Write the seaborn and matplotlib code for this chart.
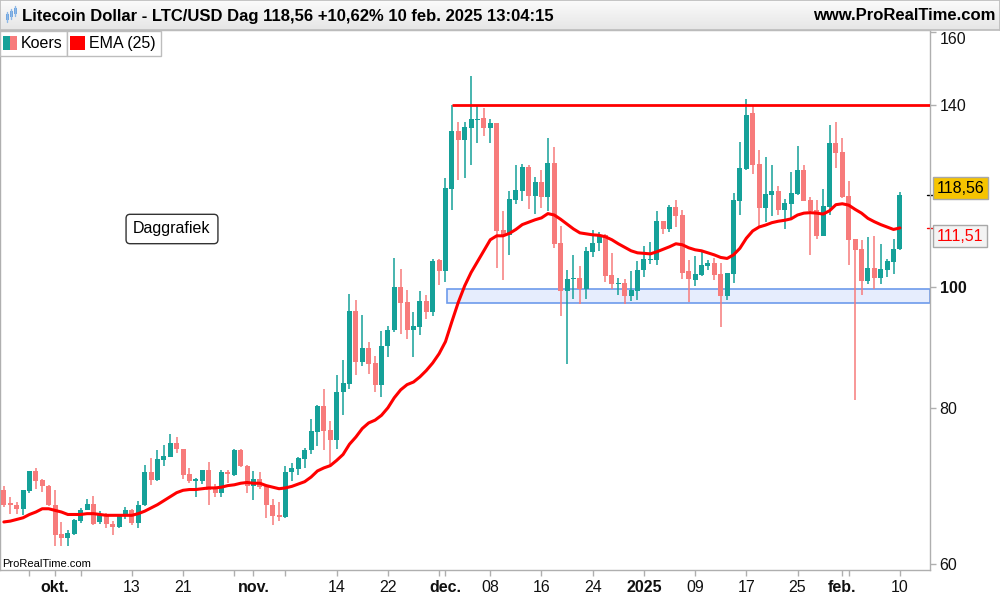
import numpy as np
import pandas as pd
import matplotlib
matplotlib.use("Agg")
import matplotlib.pyplot as plt
import matplotlib.dates as mdates
import matplotlib.transforms as mtransforms
from matplotlib.patches import Rectangle
from matplotlib.lines import Line2D
from matplotlib.ticker import NullLocator
import seaborn as sns

sns.set_theme(style="white")
plt.rcParams["font.family"] = ["Liberation Sans", "DejaVu Sans"]

# ---------------- data (daily LTC/USD, 23 Sep 2024 - 10 Feb 2025) ----------------
start_date = "2024-09-23"
end_date = "2025-02-10"

opens = [68.8, 67.0, 66.8, 66.4, 68.6, 71.2, 70.0, 69.3,
         66.9, 63.4, 62.9, 63.4, 64.9, 66.3, 67.0, 64.8, 65.7, 64.6,
         64.2, 65.6, 66.3, 64.7, 66.8, 71.0, 70.0, 72.7, 73.0, 75.0,
         74.2, 70.8, 69.9, 69.9, 71.3, 69.1, 68.3, 71.1, 70.7, 74.0,
         71.9, 69.2, 70.2, 69.3, 66.9, 65.6, 65.4, 71.0, 71.5, 72.8,
         74.0, 76.5, 80.2, 76.8, 75.4, 82.3, 83.6, 95.6, 87.1, 89.3,
         86.9, 83.5, 89.6, 92.3, 99.9, 97.2, 92.3, 92.8, 97.4, 95.5,
         105.1, 102.9, 119.8, 133.4, 131.2, 134.2, 136.1, 136.5, 134.2, 135.3,
         111.1, 110.0, 117.4, 119.4, 124.7, 118.3, 121.4, 118.1, 125.7, 108.5,
         99.3, 101.4, 101.6, 99.6, 106.7, 108.4, 110.1, 102.2, 100.5, 100.8,
         98.4, 99.3, 103.1, 105.1, 105.1, 113.0, 111.3, 116.0, 114.2, 103.0,
         101.3, 102.2, 104.0, 104.6, 102.4, 98.3, 102.4, 117.3, 124.3, 137.8,
         125.5, 115.7, 118.6, 119.4, 115.3, 116.6, 118.7, 124.1, 117.4, 115.3,
         109.9, 116.0, 130.5, 128.3, 118.3, 109.3, 107.3, 101.1, 103.6, 101.7,
         103.2, 104.8, 107.18]

closes = [66.9, 66.8, 66.4, 68.7, 71.2, 69.9, 69.2, 66.8,
          63.3, 62.9, 63.5, 65.0, 66.3, 67.0, 64.6, 65.6, 64.5, 64.2,
          65.5, 66.2, 64.7, 66.9, 71.0, 70.0, 72.8, 73.2, 75.0, 74.1,
          70.7, 69.9, 70.0, 71.3, 68.7, 68.4, 71.1, 70.8, 74.0, 71.8,
          69.2, 70.2, 69.1, 66.8, 65.5, 65.4, 71.1, 71.6, 72.9, 74.0,
          76.7, 80.2, 76.6, 75.4, 82.4, 83.8, 95.6, 87.1, 89.3, 86.8,
          83.5, 89.7, 92.4, 99.9, 97.0, 92.3, 93.0, 97.4, 95.5, 104.9,
          102.9, 120.1, 133.4, 131.1, 134.3, 136.3, 136.4, 134.2, 135.3, 110.9,
          110.0, 117.6, 119.6, 124.7, 118.3, 121.4, 118.1, 125.7, 108.3, 99.3,
          101.5, 101.6, 99.6, 106.9, 108.4, 110.1, 102.1, 100.5, 100.8, 98.4,
          99.4, 103.2, 105.3, 105.3, 113.0, 111.3, 116.0, 114.1, 102.7, 101.5,
          102.4, 104.1, 104.6, 102.2, 98.3, 102.6, 117.4, 124.6, 137.4, 125.2,
          115.6, 118.7, 119.4, 115.3, 116.7, 118.9, 124.1, 117.3, 115.1, 109.9,
          116.1, 130.5, 128.1, 118.0, 109.1, 107.1, 101.1, 103.6, 101.7, 103.4,
          104.9, 107.18, 118.56]

highs = [69.3, 67.8, 67.2, 68.7, 71.2, 71.6, 70.1, 69.4,
         68.7, 64.8, 63.9, 65.2, 66.5, 67.6, 68.0, 66.1, 65.9, 64.9,
         65.7, 66.6, 66.4, 67.4, 72.0, 72.9, 74.0, 74.7, 76.2, 75.8,
         74.2, 71.6, 70.3, 71.3, 72.4, 69.5, 71.3, 71.35, 74.2, 74.2,
         72.0, 71.2, 71.1, 69.4, 67.6, 67.2, 71.8, 72.3, 73.1, 74.3,
         78.4, 80.4, 82.9, 78.1, 85.0, 87.4, 98.7, 97.6, 94.9, 90.4,
         88.0, 92.2, 93.0, 105.5, 103.4, 99.4, 95.5, 99.3, 98.5, 105.3,
         105.2, 122.3, 140.0, 135.6, 135.6, 147.7, 139.8, 139.1, 136.3, 135.4,
         115.1, 119.4, 125.2, 125.4, 125.2, 122.6, 124.1, 131.6, 129.4, 111.9,
         103.2, 106.1, 103.9, 107.7, 111.1, 110.6, 110.3, 106.4, 101.6, 101.4,
         103.0, 104.9, 107.9, 108.6, 115.1, 113.0, 116.3, 117.4, 115.3, 105.1,
         105.9, 106.6, 105.1, 105.4, 104.5, 102.7, 118.9, 130.8, 141.5, 139.9,
         128.8, 127.1, 125.2, 120.5, 117.6, 123.6, 129.7, 125.2, 118.1, 117.4,
         119.8, 134.8, 135.6, 131.6, 121.6, 109.3, 109.1, 109.7, 109.9, 108.3,
         105.3, 109.3, 119.2]

lows = [66.6, 65.8, 65.8, 65.6, 68.4, 68.9, 68.5, 66.7,
        61.95, 61.95, 61.95, 63.3, 64.7, 66.2, 64.4, 64.5, 64.1, 63.2,
        64.1, 65.1, 64.4, 64.1, 66.7, 69.4, 69.9, 71.8, 73.0, 73.6,
        70.2, 69.6, 67.8, 69.5, 66.8, 67.9, 67.9, 69.6, 70.5, 71.7,
        68.3, 67.5, 68.9, 65.3, 64.4, 64.9, 65.3, 69.9, 70.7, 71.6,
        73.5, 74.5, 74.0, 72.0, 74.1, 78.9, 82.9, 85.0, 86.5, 85.2,
        82.4, 81.6, 87.9, 92.1, 91.7, 90.9, 87.9, 91.5, 94.2, 94.8,
        100.4, 101.0, 115.3, 121.8, 122.3, 125.2, 130.5, 132.2, 130.5, 103.6,
        101.3, 106.1, 116.6, 117.3, 115.5, 114.4, 115.6, 115.1, 107.4, 94.7,
        86.7, 97.8, 96.9, 97.8, 105.7, 106.9, 101.0, 99.6, 98.5, 96.9,
        97.5, 97.6, 101.9, 104.3, 104.1, 110.2, 110.7, 111.8, 101.5, 97.3,
        100.1, 102.1, 103.2, 101.3, 92.8, 97.6, 100.7, 114.2, 124.0, 123.1,
        111.8, 112.8, 113.9, 114.2, 111.3, 113.1, 118.4, 117.1, 106.1, 109.3,
        109.9, 114.2, 124.5, 117.8, 104.1, 81.2, 98.5, 100.6, 99.6, 100.6,
        101.9, 102.4, 107.0]

ema25 = [64.8, 64.9, 65.1, 65.3, 65.7, 66.0, 66.4, 66.4,
         66.2, 66.0, 65.7, 65.7, 65.7, 65.8, 65.8, 65.7, 65.6, 65.6,
         65.6, 65.6, 65.6, 65.8, 66.1, 66.5, 66.9, 67.4, 67.9, 68.4,
         68.7, 68.8, 68.8, 68.9, 69.0, 69.0, 69.1, 69.3, 69.4, 69.6,
         69.7, 69.6, 69.6, 69.3, 69.1, 68.9, 69.0, 69.2, 69.5, 69.8,
         70.4, 71.2, 71.6, 71.9, 72.6, 73.4, 74.8, 75.8, 77.0, 77.8,
         78.2, 78.9, 80.0, 81.5, 82.7, 83.5, 83.9, 84.7, 85.7, 86.9,
         88.4, 90.4, 93.8, 97.2, 100.2, 102.7, 104.8, 106.9, 109.1, 109.9,
         109.9, 110.4, 111.2, 112.2, 112.7, 113.2, 113.6, 114.5, 114.2, 113.3,
         112.3, 111.3, 110.5, 110.3, 110.1, 110.0, 109.7, 109.1, 108.3, 107.6,
         106.9, 106.5, 106.4, 106.3, 106.7, 107.2, 107.7, 108.3, 108.1, 107.5,
         107.1, 106.9, 106.5, 106.1, 105.6, 105.4, 106.1, 107.4, 109.4, 110.9,
         111.7, 112.1, 112.6, 112.9, 113.1, 113.4, 114.2, 114.6, 114.7, 114.6,
         114.4, 115.1, 116.4, 116.6, 116.3, 115.4, 114.6, 113.5, 112.8, 112.2,
         111.7, 111.2, 111.51]

resistance_level = 140.0
resistance_start = "2024-12-02"
zone_low, zone_high = 97.0, 99.6
zone_start = "2024-12-01 06:00"

last_close = 118.56
last_ema = 111.51

y_ticks = [60, 80, 100, 140, 160]
month_ticks = ["2024-10-01", "2024-11-01", "2024-12-01", "2025-01-01", "2025-02-01"]
month_labels = ["okt.", "nov.", "dec.", "2025", "feb."]
day_ticks = ["2024-09-27", "2024-10-05", "2024-10-13", "2024-10-21", "2024-10-29",
             "2024-11-06", "2024-11-14", "2024-11-22", "2024-11-30", "2024-12-08",
             "2024-12-16", "2024-12-24", "2025-01-09", "2025-01-17", "2025-01-25",
             "2025-02-02", "2025-02-10"]
day_labels = ["", "", "13", "21", "", "", "14", "22", "", "08", "16", "24",
              "09", "17", "25", "", "10"]

title = "Litecoin Dollar - LTC/USD Dag 118,56 +10,62% 10 feb. 2025 13:04:15"

# ---------------- figure ----------------
TEAL = "#15A199"
SALMON = "#F77B7B"
RED = "#FF0000"
GRAY = "#AFAFAF"

dates = pd.date_range(start_date, end_date, freq="D")
df = pd.DataFrame({"date": dates, "open": opens, "high": highs,
                   "low": lows, "close": closes, "ema": ema25})
df["x"] = mdates.date2num(df["date"])
df["up"] = df["close"] >= df["open"]
colors = np.where(df["up"], TEAL, SALMON)

fig = plt.figure(figsize=(10, 6), dpi=100)
fig.patch.set_facecolor("white")
ax = fig.add_axes([0.0, 0.05, 0.93, 0.90])
ax.set_facecolor("white")

xmin = df["x"].iloc[0] - 0.6
xmax = df["x"].iloc[-1] + 4.7

# support zone
z0 = mdates.date2num(pd.Timestamp(zone_start))
ax.add_patch(Rectangle((z0, zone_low), xmax - z0, zone_high - zone_low,
                       facecolor="#E6EDFD", edgecolor="#6D9BEB", lw=1.2, zorder=1))

# wicks and bodies
ax.vlines(df["x"], df["low"], df["high"], colors=colors, lw=1.1, zorder=2)
body_bottom = np.minimum(df["open"], df["close"])
body_height = np.maximum(np.abs(df["close"] - df["open"]), 0.25)
ax.bar(df["x"], body_height, bottom=body_bottom, width=0.78, color=colors,
       edgecolor="none", zorder=3)

# EMA
sns.lineplot(x=df["x"].values, y=df["ema"].values, ax=ax, color=RED, lw=2.2,
             zorder=4, legend=False)

# resistance
r0 = mdates.date2num(pd.Timestamp(resistance_start))
ax.hlines(resistance_level, r0, xmax, colors=RED, lw=2.0, zorder=4)

ax.set_yscale("log")
ax.set_ylim(59.3, 160.7)
ax.set_xlim(xmin, xmax)

# y axis on right
ax.yaxis.tick_right()
ax.set_yticks(y_ticks)
ax.set_yticklabels([str(v) for v in y_ticks])
ax.yaxis.set_minor_locator(NullLocator())
ax.tick_params(axis="y", which="major", direction="out", length=4, width=1,
               color=GRAY, pad=3, right=True, left=False)
for t in ax.get_yticklabels():
    t.set_fontsize(11.5)
    t.set_color("#111111")
    if t.get_text() == "100":
        t.set_fontweight("bold")
    if t.get_text() == "160":
        t.set_verticalalignment("top")

# x axis
all_ticks = [mdates.date2num(pd.Timestamp(d)) for d in month_ticks + day_ticks]
all_labels = month_labels + day_labels
ax.set_xticks(all_ticks)
ax.set_xticklabels(all_labels)
ax.xaxis.set_minor_locator(NullLocator())
for t in ax.get_xticklabels():
    t.set_fontsize(11.5)
    t.set_color("#111111")
    if t.get_text() in month_labels:
        t.set_fontweight("bold")
ax.tick_params(axis="x", which="major", direction="out", length=4, width=1,
               color=GRAY, pad=3, bottom=True)

for s in ax.spines.values():
    s.set_color(GRAY)
    s.set_linewidth(1.0)
ax.grid(False)
ax.set_xlabel("")
ax.set_ylabel("")

# last-value labels on axis
trans = mtransforms.blended_transform_factory(ax.transAxes, ax.transData)
ax.plot([0.997, 1.004], [last_close, last_close], color="black", lw=1,
        transform=trans, clip_on=False)
ax.plot([0.997, 1.004], [last_ema, last_ema], color=RED, lw=1,
        transform=trans, clip_on=False)
ax.text(1.007, 120.0, "118,56", transform=trans, fontsize=11.5, color="black",
        va="center", ha="left",
        bbox=dict(boxstyle="square,pad=0.22", facecolor="#F6C400", edgecolor="#A8A8A8", lw=1))
ax.text(1.007, 109.8, "111,51", transform=trans, fontsize=11.5, color=RED,
        va="center", ha="left",
        bbox=dict(boxstyle="square,pad=0.22", facecolor="#F3F3F3", edgecolor="#A8A8A8", lw=1))

# annotation box
ax.text(172 / 930, (570 - 229) / 540, "Daggrafiek", transform=ax.transAxes,
        fontsize=11.5, color="black", ha="center", va="center",
        bbox=dict(boxstyle="round,pad=0.45,rounding_size=0.25", facecolor="white",
                  edgecolor="#333333", lw=1))

# header
hax = fig.add_axes([0.0, 0.95, 1.0, 0.05])
grad = np.linspace(0.985, 0.90, 50).reshape(-1, 1)
hax.imshow(np.dstack([grad, grad, grad]), aspect="auto", extent=[0, 1, 0, 1])
hax.set_xlim(0, 1)
hax.set_ylim(0, 1)
hax.set_xticks([])
hax.set_yticks([])
for s in hax.spines.values():
    s.set_color("#BDBDBD")
fig.text(22 / 1000, 1 - 16 / 600, title, fontsize=12, fontweight="bold",
         color="black", va="center", ha="left")
fig.text(995 / 1000, 1 - 16 / 600, "www.ProRealTime.com", fontsize=12,
         fontweight="bold", color="black", va="center", ha="right")

# small candle icon in header
def px(xp, yp):
    return xp / 1000, 1 - yp / 600

for cx, y1, y2, b1, b2 in [(7, 12, 22, 14, 20), (11, 9, 19, 11, 17), (15, 6, 16, 8, 14)]:
    xa, ya = px(cx, y1)
    _, yb = px(cx, y2)
    fig.add_artist(Line2D([xa, xa], [ya, yb], color="#8CB8E8", lw=1))
    _, bb1 = px(cx, b2)
    _, bb2 = px(cx, b1)
    fig.add_artist(Rectangle((xa - 0.0015, bb1), 0.003, bb2 - bb1,
                             transform=fig.transFigure, facecolor="#6FA3DD", edgecolor="none"))

# legend boxes
def fig_rect(x0, y0, x1, y1, **kw):
    fig.add_artist(Rectangle((x0 / 1000, 1 - y1 / 600), (x1 - x0) / 1000, (y1 - y0) / 600,
                             transform=fig.transFigure, **kw))

fig_rect(0, 31, 67, 56, facecolor="white", edgecolor="#BDBDBD", lw=1)
fig_rect(67, 31, 161, 56, facecolor="white", edgecolor="#BDBDBD", lw=1)
fig_rect(3, 36, 10, 50, facecolor=TEAL, edgecolor="none")
fig_rect(10, 36, 17, 50, facecolor=SALMON, edgecolor="none")
fig_rect(70, 36, 85, 50, facecolor=RED, edgecolor="none")
fig.text(21 / 1000, 1 - 43.5 / 600, "Koers", fontsize=11.5, color="black", va="center")
fig.text(89 / 1000, 1 - 43.5 / 600, "EMA (25)", fontsize=11.5, color="black", va="center")

# watermark
fig.text(2 / 1000, 1 - 564 / 600, "ProRealTime.com", fontsize=8, color="black",
         va="center", ha="left")

fig.savefig("out.png", dpi=100)
